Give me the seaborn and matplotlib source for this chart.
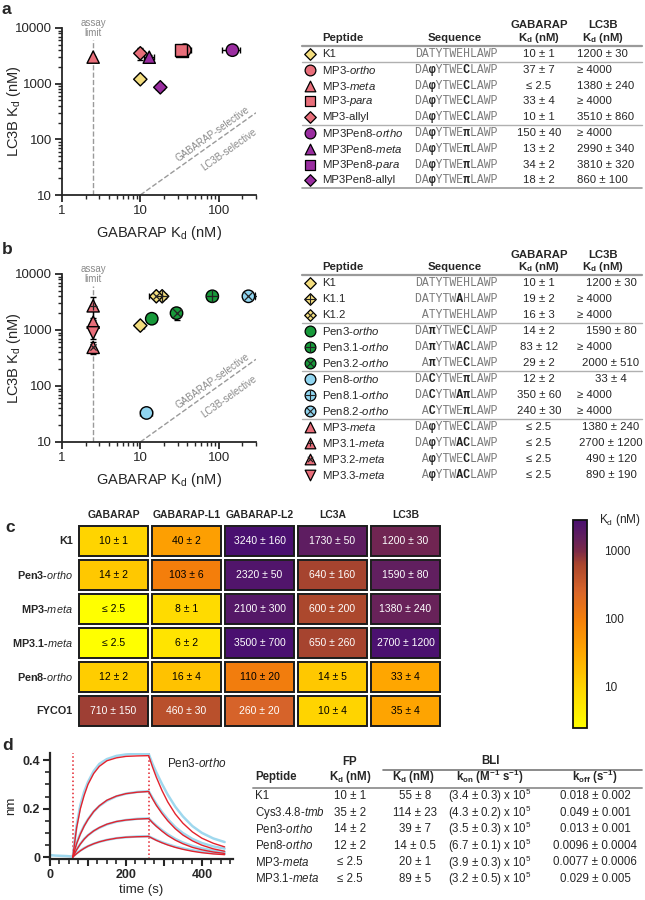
import numpy as np
import pandas as pd
import matplotlib
matplotlib.use('Agg')
import matplotlib.pyplot as plt
import seaborn as sns
from matplotlib.colors import LinearSegmentedColormap, LogNorm
from matplotlib.patches import Rectangle
from matplotlib.ticker import LogLocator, NullFormatter, MultipleLocator

# ---------------- colours ----------------
YELLOW = '#F3DD7E'
SALMON = '#E86E7A'
PURPLE = '#9A2DA0'
GREEN = '#17993A'
BLUE = '#90D5F0'

# ---------------- panel a data ----------------
peptides_a = ["K1", "MP3-ortho", "MP3-meta", "MP3-para", "MP3-allyl",
              "MP3Pen8-ortho", "MP3Pen8-meta", "MP3Pen8-para", "MP3Pen8-allyl"]
markers_a = ['D', 'o', '^', 's', 'D', 'o', '^', 's', 'D']
colors_a = [YELLOW, SALMON, SALMON, SALMON, SALMON, PURPLE, PURPLE, PURPLE, PURPLE]
gabarap_a = [10, 37, 2.5, 33, 10, 150, 13, 34, 18]
gabarap_err_a = [1, 7, 0, 4, 1, 40, 2, 2, 2]
lc3b_a = [1200, 4000, 3000, 4000, 3510, 4000, 2990, 3810, 860]
lc3b_err_a = [30, 0, 0, 0, 860, 0, 340, 320, 100]
draw_order_a = [0, 5, 7, 1, 3, 2, 4, 6, 8]
seq_a = ["DATYTWEHLAWP", "DAφYTWECLAWP", "DAφYTWECLAWP", "DAφYTWECLAWP", "DAφYTWECLAWP",
         "DAφYTWEπLAWP", "DAφYTWEπLAWP", "DAφYTWEπLAWP", "DAφYTWEπLAWP"]
gab_txt_a = ["10 ± 1", "37 ± 7", "≤ 2.5", "33 ± 4", "10 ± 1", "150 ± 40", "13 ± 2", "34 ± 2", "18 ± 2"]
lc3_txt_a = ["1200 ± 30", "≥ 4000", "1380 ± 240", "≥ 4000", "3510 ± 860",
             "≥ 4000", "2990 ± 340", "3810 ± 320", "860 ± 100"]
groups_a = [0, 4]          # separator after these rows

# ---------------- panel b data ----------------
peptides_b = ["K1", "K1.1", "K1.2", "Pen3-ortho", "Pen3.1-ortho", "Pen3.2-ortho",
              "Pen8-ortho", "Pen8.1-ortho", "Pen8.2-ortho",
              "MP3-meta", "MP3.1-meta", "MP3.2-meta", "MP3.3-meta"]
markers_b = ['D', 'D', 'D', 'o', 'o', 'o', 'o', 'o', 'o', '^', '^', '^', 'v']
inner_b = ['', '+', 'x', '', '+', 'x', '', '+', 'x', '', '+', 'x', '']
colors_b = [YELLOW] * 3 + [GREEN] * 3 + [BLUE] * 3 + [SALMON] * 4
gabarap_b = [10, 19, 16, 14, 83, 29, 12, 350, 240, 2.5, 2.5, 2.5, 2.5]
gabarap_err_b = [1, 2, 3, 2, 12, 2, 2, 60, 30, 0, 0, 0, 0]
lc3b_b = [1200, 4000, 4000, 1590, 4000, 2000, 33, 4000, 4000, 1380, 2700, 490, 890]
lc3b_err_b = [30, 0, 0, 80, 0, 510, 4, 0, 0, 240, 1200, 120, 190]
seq_b = ["DATYTWEHLAWP", "DATYTWAHLAWP", " ATYTWEHLAWP",
         "DAπYTWECLAWP", "DAπYTWACLAWP", " AπYTWECLAWP",
         "DACYTWEπLAWP", "DACYTWAπLAWP", " ACYTWEπLAWP",
         "DAφYTWECLAWP", "DAφYTWACLAWP", " AφYTWECLAWP", " AφYTWACLAWP"]
gab_txt_b = ["10 ± 1", "19 ± 2", "16 ± 3", "14 ± 2", "83 ± 12", "29 ± 2", "12 ± 2",
             "350 ± 60", "240 ± 30", "≤ 2.5", "≤ 2.5", "≤ 2.5", "≤ 2.5"]
lc3_txt_b = ["1200 ± 30", "≥ 4000", "≥ 4000", "1590 ± 80", "≥ 4000", "2000 ± 510",
             "33 ± 4", "≥ 4000", "≥ 4000", "1380 ± 240", "2700 ± 1200", "490 ± 120", "890 ± 190"]
groups_b = [2, 5, 8]

# ---------------- panel c data ----------------
heat_rows = ["K1", "Pen3-ortho", "MP3-meta", "MP3.1-meta", "Pen8-ortho", "FYCO1"]
heat_cols = ["GABARAP", "GABARAP-L1", "GABARAP-L2", "LC3A", "LC3B"]
heat_vals = [[10, 40, 3240, 1730, 1200],
             [14, 103, 2320, 640, 1590],
             [2.5, 8, 2100, 600, 1380],
             [2.5, 6, 3500, 650, 2700],
             [12, 16, 110, 14, 33],
             [710, 460, 260, 10, 35]]
heat_errs = [[1, 2, 160, 50, 30],
             [2, 6, 50, 160, 80],
             [None, 1, 300, 200, 240],
             [None, 2, 700, 260, 1200],
             [2, 4, 20, 5, 4],
             [150, 30, 20, 4, 4]]

# ---------------- panel d data ----------------
t_base = [0, 15, 30, 45, 60]
raw_base = [0.008, 0.006, 0.005, 0.004, 0.002]
t_assoc = [60, 70, 80, 90, 100, 115, 130, 150, 175, 200, 230, 260]
t_dissoc = [270, 280, 295, 310, 330, 350, 375, 400, 430, 460]
raw_assoc = [[0.002, 0.13, 0.215, 0.27, 0.31, 0.355, 0.385, 0.405, 0.418, 0.424, 0.427, 0.426],
             [0.002, 0.058, 0.098, 0.130, 0.156, 0.188, 0.211, 0.233, 0.251, 0.262, 0.269, 0.272],
             [0.002, 0.031, 0.055, 0.075, 0.090, 0.108, 0.121, 0.135, 0.146, 0.153, 0.158, 0.160],
             [0.002, 0.015, 0.027, 0.037, 0.045, 0.055, 0.063, 0.071, 0.078, 0.082, 0.085, 0.086]]
raw_dissoc = [[0.385, 0.350, 0.302, 0.258, 0.208, 0.168, 0.128, 0.100, 0.077, 0.062],
              [0.245, 0.220, 0.186, 0.157, 0.124, 0.099, 0.075, 0.058, 0.044, 0.035],
              [0.144, 0.130, 0.111, 0.094, 0.075, 0.060, 0.046, 0.036, 0.027, 0.021],
              [0.078, 0.071, 0.061, 0.053, 0.043, 0.036, 0.028, 0.022, 0.017, 0.013]]
fit_assoc = [[0, 0.12, 0.20, 0.255, 0.30, 0.345, 0.375, 0.398, 0.410, 0.416, 0.418, 0.419],
             [0, 0.055, 0.095, 0.128, 0.155, 0.188, 0.212, 0.235, 0.252, 0.262, 0.268, 0.271],
             [0, 0.030, 0.054, 0.074, 0.090, 0.108, 0.122, 0.136, 0.147, 0.153, 0.157, 0.159],
             [0, 0.014, 0.026, 0.036, 0.045, 0.055, 0.063, 0.071, 0.078, 0.082, 0.084, 0.085]]
fit_dissoc = [[0.372, 0.330, 0.275, 0.228, 0.178, 0.140, 0.104, 0.078, 0.057, 0.042],
              [0.241, 0.214, 0.180, 0.150, 0.117, 0.091, 0.067, 0.049, 0.034, 0.024],
              [0.142, 0.127, 0.107, 0.089, 0.070, 0.055, 0.040, 0.030, 0.021, 0.015],
              [0.077, 0.069, 0.059, 0.050, 0.040, 0.032, 0.024, 0.018, 0.013, 0.010]]
step_times = [60, 260]

bli_peptides = ["K1", "Cys3.4.8-tmb", "Pen3-ortho", "Pen8-ortho", "MP3-meta", "MP3.1-meta"]
bli_fp = ["10 ± 1", "35 ± 2", "14 ± 2", "12 ± 2", "≤ 2.5", "≤ 2.5"]
bli_kd = ["55 ± 8", "114 ± 23", "39 ± 7", "14 ± 0.5", "20 ± 1", "89 ± 5"]
bli_kon = ["3.4 ± 0.3", "4.3 ± 0.2", "3.5 ± 0.3", "6.7 ± 0.1", "3.9 ± 0.3", "3.2 ± 0.5"]
bli_koff = ["0.018 ± 0.002", "0.049 ± 0.001", "0.013 ± 0.001",
            "0.0096 ± 0.0004", "0.0077 ± 0.0006", "0.029 ± 0.005"]

# ---------------- style ----------------
sns.set_style('ticks')
plt.rcParams['font.family'] = ['Liberation Sans', 'DejaVu Sans']
plt.rcParams['mathtext.fontset'] = 'custom'
plt.rcParams['mathtext.rm'] = 'Liberation Sans'
plt.rcParams['mathtext.it'] = 'Liberation Sans:italic'
plt.rcParams['mathtext.bf'] = 'Liberation Sans:bold'
plt.rcParams['axes.linewidth'] = 1.3

W, H = 645, 900
fig = plt.figure(figsize=(W / 100, H / 100), dpi=100)

MSIZE = {'o': 80, 'D': 46, '^': 78, 'v': 78, 's': 70}
INNER = {('+', 'o'): 75, ('x', 'o'): 38, ('+', 'D'): 70, ('x', 'D'): 24,
         ('+', '^'): 26, ('x', '^'): 20}


def px_axes(x0, y0, x1, y1):
    return fig.add_axes([x0 / W, 1 - y1 / H, (x1 - x0) / W, (y1 - y0) / H])


def fancy(name):
    for suf in ('ortho', 'meta', 'para', 'tmb'):
        if name.endswith('-' + suf):
            return name[:-len(suf)] + r'$\it{' + suf + '}$'
    return name


def scatter_panel(ax, names, markers, colors, gx, gxe, ly, lye, inner=None, order=None):
    df = pd.DataFrame({'peptide': names, 'gab': gx, 'gab_err': gxe,
                       'lc3b': ly, 'lc3b_err': lye, 'marker': markers})
    if order is not None:
        df = df.iloc[order]
    ax.errorbar(df.gab, df.lc3b, xerr=df.gab_err, yerr=df.lc3b_err, fmt='none',
                ecolor='k', elinewidth=1, capsize=2.5, capthick=1, zorder=2)
    sns.scatterplot(data=df, x='gab', y='lc3b', hue='peptide', style='peptide', size='peptide',
                    palette=dict(zip(names, colors)), markers=dict(zip(names, markers)),
                    sizes={n: MSIZE[m] for n, m in zip(names, markers)},
                    edgecolor='k', linewidth=1, legend=False, ax=ax, zorder=3)
    if inner is not None:
        for xv, yv, m, sym in zip(gx, ly, markers, inner):
            if sym:
                ax.scatter([xv], [yv], marker=sym, s=INNER[(sym, m)], c='#222', linewidths=0.9, zorder=4)

    ax.set_xscale('log')
    ax.set_yscale('log')
    ax.set_xlim(1, 300)
    ax.set_ylim(10, 10000)
    ax.set_xticks([1, 10, 100])
    ax.set_xticklabels(['1', '10', '100'])
    ax.set_yticks([10, 100, 1000, 10000])
    ax.set_yticklabels(['10', '100', '1000', '10000'])
    for axis in (ax.xaxis, ax.yaxis):
        axis.set_minor_locator(LogLocator(base=10, subs=np.arange(2, 10), numticks=20))
        axis.set_minor_formatter(NullFormatter())
    ax.tick_params(which='major', length=5, width=1.3, labelsize=9.5, pad=2)
    ax.tick_params(which='minor', length=3, width=1)
    sns.despine(ax=ax)
    ax.set_xlabel(r'GABARAP K$_\mathrm{d}$ (nM)', fontsize=10.5, labelpad=5)
    ax.set_ylabel(r'LC3B K$_\mathrm{d}$ (nM)', fontsize=10.5)
    ax.yaxis.set_label_coords(-0.20, 0.5)

    # assay limit and selectivity diagonal
    ax.axvline(2.5, ymax=0.93, ls='--', color='#9a9a9a', lw=1, zorder=1)
    ax.text(2.5, 1.0, 'assay\nlimit', transform=ax.get_xaxis_transform(), ha='center',
            va='center', fontsize=7, color='#8a8a8a', linespacing=0.95)
    ax.axline((10, 10), (100, 100), ls='--', color='#9a9a9a', lw=1, zorder=1)
    ang = np.degrees(np.arctan((167 / 3) / (194 / np.log10(300))))
    ax.annotate('GABARAP-selective', (95, 95), xytext=(-1.2, 1.8), textcoords='offset points',
                rotation=ang, rotation_mode='anchor', ha='center', va='bottom',
                fontsize=7, color='#8a8a8a')
    ax.annotate('LC3B-selective', (105, 105), xytext=(4.0, -5.5), textcoords='offset points',
                rotation=ang, rotation_mode='anchor', ha='center', va='top',
                fontsize=7, color='#8a8a8a')


# ---------------- panel a / b plots ----------------
ax_a = px_axes(62, 28, 256, 195)
scatter_panel(ax_a, peptides_a, markers_a, colors_a, gabarap_a, gabarap_err_a,
              lc3b_a, lc3b_err_a, order=draw_order_a)
ax_b = px_axes(62, 274, 256, 442)
scatter_panel(ax_b, peptides_b, markers_b, colors_b, gabarap_b, gabarap_err_b,
              lc3b_b, lc3b_err_b, inner=inner_b)

# ---------------- panel c heatmap ----------------
cmap = LinearSegmentedColormap.from_list('kd', [
    (0.00, '#FFFF00'), (0.197, '#FFD400'), (0.361, '#FFA800'), (0.525, '#F57F0A'),
    (0.656, '#D8652A'), (0.787, '#AA462D'), (0.853, '#7C2A48'), (0.918, '#62205E'),
    (1.00, '#4A1070')])
vals = np.array(heat_vals, dtype=float)
labels = np.array([["≤ 2.5" if e is None else f"{v:g} ± {e:g}" for v, e in zip(vr, er)]
                   for vr, er in zip(heat_vals, heat_errs)])
heat_df = pd.DataFrame(vals, index=heat_rows, columns=heat_cols)

hax = px_axes(77, 524, 442, 728)
cax = px_axes(573, 520, 587, 728)
sns.heatmap(heat_df, ax=hax, cbar_ax=cax, cmap=cmap, norm=LogNorm(vmin=2.5, vmax=2800),
            annot=labels, fmt='', annot_kws={'fontsize': 7.5}, linewidths=2.5, linecolor='white')
for t in hax.texts:
    xx, yy = t.get_position()
    v = vals[int(yy), int(xx)]
    t.set_color('white' if v > 200 else 'black')
for i in range(len(heat_rows)):
    for j in range(len(heat_cols)):
        hax.add_patch(Rectangle((j + 0.025, i + 0.06), 0.95, 0.88, fill=False,
                                ec='#1b1b1b', lw=1.4, zorder=3))
hax.xaxis.tick_top()
hax.set_xticklabels(heat_cols, fontsize=7.5, fontweight='bold')
hax.set_yticklabels([fancy(r) for r in heat_rows], rotation=0, fontsize=7.8, fontweight='bold')
hax.tick_params(length=0, pad=3)
hax.set_xlabel('')
hax.set_ylabel('')
cbar = hax.collections[0].colorbar
cbar.set_ticks([10, 100, 1000])
cbar.set_ticklabels(['10', '100', '1000'])
cax.minorticks_off()
cax.tick_params(direction='in', length=3, width=1.2, labelsize=8.5, pad=12, color='#222')
cbar.outline.set_edgecolor('#111')
cbar.outline.set_linewidth(1.3)

# ---------------- panel d kinetics ----------------
ax_d = px_axes(50, 753, 233, 859)
raw_rows, fit_rows = [], []
raw_rows += [{'t': t, 'nm': v, 'curve': 'base'} for t, v in zip(t_base, raw_base)]
for k in range(4):
    for t, v in zip(t_assoc + t_dissoc, raw_assoc[k] + raw_dissoc[k]):
        raw_rows.append({'t': t, 'nm': v, 'curve': k})
    for t, v in zip(t_assoc + t_dissoc, fit_assoc[k] + fit_dissoc[k]):
        fit_rows.append({'t': t, 'nm': v, 'curve': k})
raw_df = pd.DataFrame(raw_rows)
fit_df = pd.DataFrame(fit_rows)
raw_df['curve'] = raw_df['curve'].astype(str)
sns.lineplot(data=raw_df, x='t', y='nm', units='curve', estimator=None, sort=False,
             color='#9FD8EE', lw=1.8, ax=ax_d)
sns.lineplot(data=fit_df, x='t', y='nm', units='curve', estimator=None, sort=False,
             color='#E3222C', lw=1.0, ax=ax_d)
for st in step_times:
    ax_d.axvline(st, color='#E3222C', ls=':', lw=1.1, zorder=0)
ax_d.set_xlim(0, 482)
ax_d.set_ylim(-0.008, 0.43)
ax_d.set_xticks([0, 100, 200, 300, 400])
ax_d.set_xticklabels(['0', '', '200', '', '400'], fontweight='bold')
ax_d.xaxis.set_minor_locator(MultipleLocator(25))
ax_d.set_yticks([0, 0.2, 0.4])
ax_d.set_yticklabels(['0', '0.2', '0.4'], fontweight='bold')
ax_d.yaxis.set_minor_locator(MultipleLocator(0.05))
ax_d.tick_params(which='major', length=5, width=1.5, labelsize=9, pad=2)
ax_d.tick_params(which='minor', length=3.5, width=1.2)
for s in ('left', 'bottom'):
    ax_d.spines[s].set_linewidth(1.6)
sns.despine(ax=ax_d)
ax_d.set_xlabel('time (s)', fontsize=9.5, labelpad=2)
ax_d.set_ylabel('nm', fontsize=9.5, labelpad=4)
ax_d.text(0.64, 0.9, r'Pen3-$\it{ortho}$', transform=ax_d.transAxes, fontsize=8.5, va='center')

# ---------------- overlay: tables and panel letters ----------------
ov = fig.add_axes([0, 0, 1, 1])
ov.set_xlim(0, W)
ov.set_ylim(H, 0)
ov.axis('off')
ov.patch.set_alpha(0)

for letter, (lx, ly) in zip('abcd', [(2, 10), (2, 250), (5, 528), (2, 745)]):
    ov.text(lx, ly, letter, fontsize=12.5, fontweight='bold', va='center')

MONO = ['Liberation Mono', 'DejaVu Sans Mono']


def is_bold(seq, i):
    c = seq[i]
    return c in 'φπC' or (c == 'A' and i > 0 and seq[i - 1] == 'W')


def draw_seq(x, y, seq):
    reg = ''.join(' ' if is_bold(seq, i) else c for i, c in enumerate(seq))
    bld = ''.join(c if is_bold(seq, i) else ' ' for i, c in enumerate(seq))
    ov.text(x, y, reg, family=MONO, fontsize=8.3, color='#7a7a7a', va='center', ha='left')
    ov.text(x, y, bld, family=MONO, fontsize=8.3, color='#222', fontweight='bold',
            va='center', ha='left')


def kd_table(names, markers, colors, seqs, gab_txt, lc3_txt, groups, y_head, y0, pitch,
             inner=None, center_lc3=False, bottom=True):
    fs = 8.2
    ov.text(322, y_head, 'Peptide', fontsize=fs, fontweight='bold', va='center')
    ov.text(455, y_head, 'Sequence', fontsize=fs, fontweight='bold', va='center', ha='center')
    ov.text(539, y_head - 12.5, 'GABARAP', fontsize=fs, fontweight='bold', va='center', ha='center')
    ov.text(539, y_head, r'K$_\mathbf{d}$ (nM)', fontsize=fs, fontweight='bold', va='center', ha='center')
    ov.text(603, y_head - 12.5, 'LC3B', fontsize=fs, fontweight='bold', va='center', ha='center')
    ov.text(603, y_head, r'K$_\mathbf{d}$ (nM)', fontsize=fs, fontweight='bold', va='center', ha='center')
    ov.plot([302, 642], [y0 - 0.5 * pitch] * 2, color='#9a9a9a', lw=1.6)
    for k in groups:
        ov.plot([302, 642], [y0 + (k + 0.5) * pitch] * 2, color='#b0b0b0', lw=1.0)
    if bottom:
        ov.plot([302, 642], [y0 + (len(names) - 0.5) * pitch] * 2, color='#9a9a9a', lw=1.2)
    for i, name in enumerate(names):
        y = y0 + i * pitch
        m = markers[i]
        ov.scatter([310], [y], marker=m, s=MSIZE[m] * 0.75, c=colors[i], edgecolors='k', linewidths=0.9)
        if inner is not None and inner[i]:
            ov.scatter([310], [y], marker=inner[i], s=INNER[(inner[i], m)] * 0.75, c='#222', linewidths=0.8)
        ov.text(322, y, fancy(name), fontsize=fs, va='center')
        draw_seq(415, y, seqs[i])
        ov.text(539, y, gab_txt[i], fontsize=fs, va='center', ha='center')
        if center_lc3 and not lc3_txt[i].startswith('≥'):
            ov.text(611, y, lc3_txt[i], fontsize=fs, va='center', ha='center')
        else:
            ov.text(577, y, lc3_txt[i], fontsize=fs, va='center', ha='left')


kd_table(peptides_a, markers_a, colors_a, seq_a, gab_txt_a, lc3_txt_a, groups_a,
         y_head=38, y0=54, pitch=15.8)
kd_table(peptides_b, markers_b, colors_b, seq_b, gab_txt_b, lc3_txt_b, groups_b,
         y_head=267, y0=283, pitch=16.0, inner=inner_b, center_lc3=True, bottom=False)

# colorbar label
ov.text(599, 520, r'K$_\mathrm{d}$ (nM)', fontsize=8.5, va='center', ha='left')

# BLI table
fs = 8.3
ov.text(350, 762, 'FP', fontsize=fs, fontweight='bold', ha='center', va='center')
ov.text(490, 761, 'BLI', fontsize=fs, fontweight='bold', ha='center', va='center')
ov.plot([383, 642], [770, 770], color='#777', lw=1.2)
ov.text(255, 777, 'Peptide', fontsize=fs, fontweight='bold', va='center')
ov.text(350, 777, r'K$_\mathbf{d}$ (nM)', fontsize=fs, fontweight='bold', ha='center', va='center')
ov.text(413, 777, r'K$_\mathbf{d}$ (nM)', fontsize=fs, fontweight='bold', ha='center', va='center')
ov.text(490, 777, r'k$_\mathbf{on}$ (M$^\mathbf{-1}$ s$^\mathbf{-1}$)', fontsize=fs,
        fontweight='bold', ha='center', va='center')
ov.text(595, 777, r'k$_\mathbf{off}$ (s$^\mathbf{-1}$)', fontsize=fs, fontweight='bold',
        ha='center', va='center')
ov.plot([253, 642], [788, 788], color='#999', lw=1.4)
for i, name in enumerate(bli_peptides):
    y = 796 + i * 16.6
    ov.text(255, y, fancy(name), fontsize=fs, va='center')
    ov.text(350, y, bli_fp[i], fontsize=fs, va='center', ha='center')
    ov.text(415, y, bli_kd[i], fontsize=fs, va='center', ha='center')
    ov.text(490, y, '(' + bli_kon[i] + r') x 10$^5$', fontsize=fs, va='center', ha='center')
    ov.text(595, y, bli_koff[i], fontsize=fs, va='center', ha='center')

fig.savefig('out.png', dpi=100)
